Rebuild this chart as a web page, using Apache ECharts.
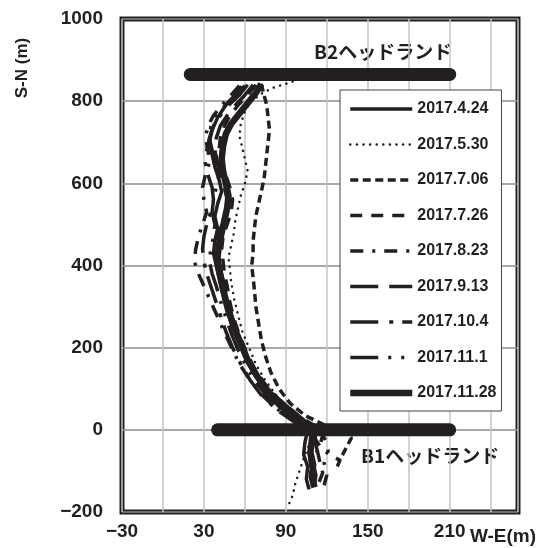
<!DOCTYPE html>
<html>
<head>
<meta charset="utf-8">
<title>Shoreline positions</title>
<script src="https://cdn.jsdelivr.net/npm/echarts@6.0.0/dist/echarts.min.js"></script>
<style>
  html, body { margin: 0; padding: 0; background: #fff; }
  #chart { width: 541px; height: 548px; }
</style>
</head>
<body>
<div id="chart"></div>
<script>
// survey dates (legend order)
const names = ['2017.4.24', '2017.5.30', '2017.7.06', '2017.7.26', '2017.8.23',
               '2017.9.13', '2017.10.4', '2017.11.1', '2017.11.28'];

// shoreline traces, [W-E (m), S-N (m)]
const s0424 = [[60,838],[54,815],[46,790],[40,760],[36,730],[34,700],[36,670],[38,640],[41,610],[43,580],[40,550],[38,520],[40,490],[38,460],[37,430],[39,400],[41,370],[43,340],[46,300],[50,260],[55,220],[60,180],[66,140],[74,100],[84,60],[96,25],[106,0],[104,-30],[103,-60],[106,-90],[105,-120],[107,-145]];
const s0530 = [[95,848],[88,840],[80,832],[72,818],[64,798],[60,775],[57,745],[56,715],[58,688],[60,660],[62,630],[60,600],[57,570],[55,540],[53,510],[52,480],[50,450],[48,420],[49,390],[50,360],[52,320],[55,280],[58,240],[63,200],[68,160],[75,120],[84,80],[96,40],[108,10],[116,0],[108,-30],[104,-60],[100,-100],[97,-130],[95,-160],[91,-190]];
const s0706 = [[72,842],[74,815],[76,790],[77,760],[78,730],[77,700],[76,670],[75,640],[74,610],[72,580],[70,550],[68,520],[67,490],[66,460],[66,430],[65,400],[66,370],[67,340],[68,300],[70,260],[72,220],[75,180],[79,140],[85,100],[93,65],[104,35],[118,12],[132,0],[138,-20],[134,-45],[130,-70],[127,-95]];
const s0726 = [[68,840],[62,815],[55,790],[49,765],[45,740],[42,710],[41,680],[43,650],[46,620],[49,590],[51,560],[50,530],[47,500],[44,470],[43,440],[44,410],[45,380],[47,350],[49,310],[52,270],[56,230],[61,190],[67,150],[75,110],[86,70],[99,35],[112,8],[118,0],[116,-25],[113,-50],[115,-80],[117,-105],[114,-130]];
const s0823 = [[56,838],[50,815],[43,790],[37,765],[33,740],[31,710],[33,680],[34,650],[31,620],[29,590],[30,560],[32,530],[29,500],[26,470],[24,440],[23,410],[26,380],[30,350],[34,320],[38,290],[42,260],[46,230],[51,195],[56,160],[63,125],[71,90],[82,55],[94,25],[104,5],[110,0],[112,-25],[116,-45],[122,-60],[130,-75]];
const s0913 = [[66,840],[60,815],[53,790],[47,765],[42,740],[39,710],[38,680],[40,650],[42,620],[45,590],[47,560],[46,530],[43,500],[41,470],[40,440],[41,410],[43,380],[45,350],[48,310],[51,270],[55,230],[60,190],[65,150],[72,110],[82,70],[94,35],[106,8],[112,0],[111,-25],[113,-50],[110,-80],[112,-110],[111,-135]];
const s1004 = [[62,840],[56,815],[48,790],[42,765],[37,740],[34,710],[32,680],[31,650],[33,620],[36,590],[37,560],[35,530],[32,500],[30,470],[29,440],[30,410],[32,380],[35,350],[38,320],[42,280],[46,240],[51,200],[57,160],[64,120],[73,80],[85,45],[98,15],[108,0],[110,-25],[107,-55],[108,-85],[111,-115],[109,-140]];
const s1101 = [[58,836],[52,812],[45,788],[39,764],[35,738],[34,710],[36,680],[39,650],[41,620],[39,590],[37,560],[36,530],[38,500],[37,470],[35,440],[34,410],[36,380],[39,350],[42,315],[46,275],[50,235],[55,195],[61,155],[68,115],[78,75],[90,40],[104,12],[115,0],[119,-25],[121,-50],[118,-80],[120,-110],[118,-135]];
const s1128 = [[72,842],[68,820],[62,795],[56,770],[50,745],[46,720],[44,690],[43,660],[44,630],[46,600],[48,570],[47,540],[45,510],[43,480],[41,450],[40,420],[41,390],[43,360],[45,330],[48,290],[52,250],[57,210],[62,170],[69,130],[78,90],[90,55],[101,25],[108,5],[110,0],[109,-25],[108,-55],[110,-85],[109,-115],[111,-140]];

// headland structures
const headB2 = [[20,865],[210,865]];
const headB1 = [[40,0],[210,0]];

const traces = [s0424, s0530, s0706, s0726, s0823, s0913, s1004, s1101, s1128];

const INK = '#231f20';
const styles = [
  { width: 3.5, type: 'solid' },
  { width: 2.5, type: [0.1, 6.5], cap: 'round' },
  { width: 3.5, type: [8, 4.5] },
  { width: 3.5, type: [12, 9] },
  { width: 3.5, type: [13, 9, 3, 9] },
  { width: 3.5, type: [28, 11] },
  { width: 3.5, type: [28, 11, 4, 9] },
  { width: 3.5, type: [28, 10, 3, 10, 3, 10] },
  { width: 6.5, type: 'solid' }
];

const minus = v => String(v).replace('-', '\u2212');

const series = traces.map((d, i) => ({
  name: names[i],
  type: 'line',
  data: d,
  symbol: 'none',
  lineStyle: Object.assign({ color: INK }, styles[i]),
  itemStyle: { color: INK },
  z: 3
}));

[headB2, headB1].forEach((d, i) => {
  series.push({
    name: i ? 'B1' : 'B2',
    type: 'line',
    data: d,
    symbol: 'none',
    silent: true,
    lineStyle: { color: INK, width: 13, cap: 'round' },
    z: 4
  });
});

// legend samples carry the same stroke as their trace
const legendData = names.map((n, i) => ({
  name: n,
  lineStyle: Object.assign({ color: INK }, styles[i])
}));

const chart = echarts.init(document.getElementById('chart'));
chart.setOption({
  animation: false,
  grid: {
    left: 122, right: 23, top: 19, bottom: 36,
    show: true, borderColor: INK, borderWidth: 5, backgroundColor: '#fff'
  },
  xAxis: {
    type: 'value', min: -30, max: 260, interval: 30,
    axisLine: { show: false }, axisTick: { show: false },
    splitLine: { lineStyle: { color: '#c4c4c4', width: 1.5 } },
    axisLabel: {
      margin: 10, color: INK, fontSize: 19, fontWeight: 'bold',
      fontFamily: '"Liberation Sans", Arial, sans-serif',
      formatter: v => ((v + 30) % 60 === 0 && v <= 210) ? minus(v) : ''
    }
  },
  yAxis: {
    type: 'value', min: -200, max: 1000, interval: 200,
    axisLine: { show: false }, axisTick: { show: false },
    splitLine: { lineStyle: { color: '#8c8c8c', width: 1.5 } },
    axisLabel: {
      margin: 19, color: INK, fontSize: 19, fontWeight: 'bold',
      fontFamily: '"Liberation Sans", Arial, sans-serif',
      formatter: minus
    }
  },
  legend: {
    data: legendData,
    orient: 'vertical',
    left: 340, top: 90,
    padding: [11, 5, 10, 7],
    itemWidth: 62, itemHeight: 16, itemGap: 19.5,
    backgroundColor: '#fff', borderColor: '#444', borderWidth: 1,
    itemStyle: { opacity: 0 },
    textStyle: {
      color: INK, fontSize: 16, fontWeight: 'bold', lineHeight: 16,
      fontFamily: '"Liberation Sans", Arial, sans-serif'
    },
    selectedMode: false
  },
  graphic: [
    { type: 'text', x: 314, y: 52,
      style: { text: 'B2ヘッドランド', fill: INK, align: 'left', verticalAlign: 'middle',
               font: 'bold 19px "Noto Sans CJK JP", sans-serif' } },
    { type: 'text', x: 361, y: 456,
      style: { text: 'B1ヘッドランド', fill: INK, align: 'left', verticalAlign: 'middle',
               font: 'bold 19px "Noto Sans CJK JP", sans-serif' } },
    { type: 'text', x: 22, y: 68, rotation: Math.PI / 2,
      style: { text: 'S-N (m)', fill: INK, align: 'center', verticalAlign: 'middle',
               font: 'bold 17px "Liberation Sans", Arial, sans-serif' } },
    { type: 'text', x: 503, y: 537,
      style: { text: 'W-E(m)', fill: INK, align: 'center', verticalAlign: 'middle',
               font: 'bold 19px "Liberation Sans", Arial, sans-serif' } }
  ],
  series: series
});
</script>
</body>
</html>
